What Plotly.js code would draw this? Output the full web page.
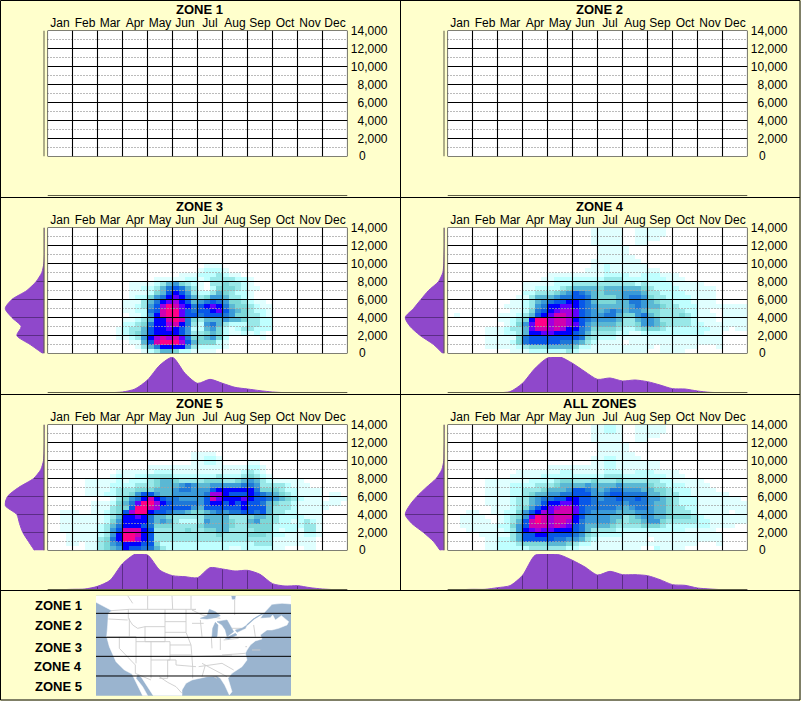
<!DOCTYPE html>
<html><head><meta charset="utf-8">
<script src="https://cdn.plot.ly/plotly-3.0.1.min.js"></script>
<style>html,body{margin:0;padding:0;background:#FFFFCC}#chart{width:801px;height:701px}</style>
</head><body><div id="chart"></div>
<script>
const months=['Jan','Feb','Mar','Apr','May','Jun','Jul','Aug','Sep','Oct','Nov','Dec'];
const altTicks=[2000,4000,6000,8000,10000,12000,14000];
const altTickText=['2,000','4,000','6,000','8,000','10,000','12,000','14,000'];
const levelColors=['#FFFFFF','#E0FFFF','#BFFFFF','#99E8E8','#7CD8D8','#5AB8D4','#3A9AD8','#1E78D8','#0858E8','#0000FF','#6000FF','#A000E0','#D000B0','#FF0088'];
const zoneNames=['ZONE 1','ZONE 2','ZONE 3','ZONE 4','ZONE 5','ALL ZONES'];

/* density level per cell (hex digit), one string per 500 ft from 14,000 down, four cells per month */
const zone3Grid=['','','','','','','','',
'0000 0000 0000 0000 0000 0000 0111',
'0000 0000 0000 0000 0000 0000 1222 1000',
'0000 0000 0000 0000 0000 0111 2223 2110',
'0000 0000 0000 0000 0111 1122 1233 3322 1000',
'0000 0000 0000 0111 1235 6432 1033 4332 1000',
'0000 0000 0000 0112 2357 8753 1024 4432 1100',
'0000 0000 0000 0111 2458 9863 2235 4322 1000',
'0000 0000 0000 0122 4679 a975 3466 5332 1000',
'0000 0000 0000 1113 579a b985 6787 6443 2110',
'0000 0000 0000 1123 68bd ca97 89a9 7544 3211',
'0000 0000 0000 1122 78cd da87 889a 8654 3221',
'0000 0000 0000 0112 69cd da88 7888 7644 3321',
'0000 0000 0000 1123 599c dc74 3555 6554 3322',
'0000 0000 0000 2234 799b c973 2675 3222 3322',
'0000 0000 0001 2335 899a 9862 2564 2123 3222',
'0000 0000 0001 2345 8999 9863 3454 2112 1210',
'0000 0000 0001 1236 9bcb ca74 4564 2000 0010',
'0000 0000 0000 0115 8cdd db85 4442 1',
'0000 0000 0000 0013 5799 9963 2222 1',
'0000 0000 0000 0001 2355 4221 1110'];
const zone4Grid=[
'0000 0000 0000 0000 0000 0001 1111 0011 1110',
'0000 0000 0000 0000 0000 0001 1111 0011 1110',
'0000 0000 0000 0000 0000 0001 1111 0011 1100',
'0000 0000 0000 0000 0000 0001 1111 0011',
'0000 0000 0000 0000 0000 0000 1111 1',
'0000 0000 0000 0000 0000 0000 1111 1',
'0000 0000 0000 0000 0000 0000 1111 11',
'0000 0000 0000 0000 0000 0001 1111 1110',
'0000 0000 0000 0000 0000 0001 1211 1111',
'0000 0000 0000 0000 0000 0011 1211 1111 1100',
'0000 0000 0000 0000 1111 1111 1222 2112 2211 1',
'0000 0000 0000 0001 1222 2222 2333 2222 2221 11',
'0000 0000 0000 1111 1222 3333 3333 3323 2222 1111 1',
'0000 0000 0000 1122 2234 5555 4555 5554 3222 2111 1110',
'0000 0000 0000 2233 3456 8765 4555 6665 3322 2211 1110',
'0000 0000 0001 1355 5677 8875 4445 6776 4332 2221 1110',
'0000 0000 0011 2356 7889 9875 4445 5776 5433 2221 1110',
'0000 0000 0111 2367 99aa 9876 5555 5676 5543 3222 1111 1111',
'0000 0000 0011 2478 9abb a876 5676 5665 4433 3322 1100 1111',
'0100 0000 1112 3589 accb a876 6775 4467 5433 3432 1110 1111',
'0000 0000 1123 49dd bccb 9876 6665 3356 6533 3332 1110 1111',
'0000 0000 0124 6add bccb a865 5554 3346 6543 3332 2111 1111',
'0000 0011 1233 5acc bcb9 9764 4443 2234 4432 2222 2211 1011',
'0000 0011 1223 599a a999 8753 3332 2112 2222 2222 2111',
'0000 0011 1114 7888 8888 8743 2221 1111 1111 1111 1111',
'0000 0011 1124 7888 8877 6532 1111 0111 1111 1111 1111',
'0000 0011 1112 3444 5555 4221 1111 1111 1011 1111 0001',
'0000 0000 0011 1222 2223 2111 1111 1111 0011 1100'];
const zone5Grid=['','','','','','',
'0000 0000 0000 0000 0000 0001 1110',
'0000 0000 0000 0000 0000 0001 1221',
'0000 0000 0000 0000 0000 0001 1221 0000 1100',
'0000 0000 0000 0000 1111 1111 1111 1111 2210',
'0000 0000 0001 1111 1222 1111 1111 1112 3210',
'0000 0000 0012 1122 3333 2222 2223 2223 4321',
'0000 0011 1112 1222 3455 4333 3444 3345 6532 1111 1',
'0000 0011 1122 2233 3455 5676 5566 6667 7633 3321 11',
'0000 0011 1123 3344 4555 6776 6689 9999 9744 4322 1111',
'0000 0011 1223 3468 8655 6666 67bb 9888 9876 5432 1111 0110',
'0000 0000 0013 4679 c987 7666 68ca 999a 9887 6543 2111 0111',
'0000 0001 1124 57ad db98 7777 6899 8989 8875 4332 1111 1110',
'0000 0001 1134 48dd cb88 8886 5888 8889 8885 3332 1111 1',
'0011 1001 1234 8bdd 9887 6654 4567 6778 8785 3322 1111',
'0011 1111 1235 99a9 7554 3333 3555 5333 4554 3222 2111',
'0011 1111 1246 9999 7565 3222 3655 5433 5644 3221 2321',
'0011 1111 2357 9998 7444 3333 4555 5433 4444 2222 2331',
'0011 1111 2368 ccc9 8333 3343 3445 5333 3444 2122 1331',
'0001 1111 2369 ddc9 8333 3333 3334 3333 4443 2211 1221',
'0001 1111 3479 ddb9 8333 3333 3333 3333 3333 1111 1110',
'0001 1011 3467 9998 8422 2222 2222 2222 2333 1111 1110',
'0000 0011 3456 9887 7532 2222 2222 2112 2222 1100 0110'];
const allZonesGrid=[
'0000 0000 0000 0000 0000 0001 1221 0011 1110',
'0000 0000 0000 0000 0000 0001 1221 0011 1110',
'0000 0000 0000 0000 0000 0001 1111 0011 1100',
'0000 0000 0000 0000 0000 0001 1111 0011',
'0000 0000 0000 0000 0000 0000 1111 1',
'0000 0000 0000 0000 0000 0000 1111 1',
'0000 0000 0000 0000 0000 0000 1111 11',
'0000 0000 0000 0000 0000 0001 1221 1110',
'0000 0000 0000 0000 0000 0001 1221 1111 1100',
'0000 0000 0000 0000 1111 1111 1221 1111 1100',
'0000 0000 0001 1111 1122 1111 1222 1122 2111 1',
'0000 0000 0011 1112 2222 2222 2333 2222 2221 11',
'0000 0011 1111 1222 2344 3334 3334 3333 3322 1111 1',
'0000 0011 1122 2233 3455 5565 5556 5555 4332 2211 11',
'0000 0011 1122 3334 5556 8876 5677 6665 5443 2221 1110',
'0000 0011 1122 3455 6677 8886 6788 7777 5543 3221 1111 1',
'0000 0011 1123 3567 7889 9887 6778 7787 6654 3222 1111 1110',
'0000 0011 1123 3568 99aa 9887 7777 6777 6554 3222 1111 1111',
'0000 0001 1123 4689 abcc a877 7776 5677 6554 3322 1111 1111',
'0001 1001 1224 689b accc a876 6665 5566 6554 3332 1111 1011',
'0011 1100 1234 6adc bccc 9866 6655 3456 6554 4443 2111 1111',
'0011 1110 1235 8cdc bccb 9766 6654 3445 6643 3333 2211 1111',
'0011 1111 2246 8ccc bcba 8755 5543 3334 4432 2222 2211 11',
'0001 1111 1236 9aba a999 8753 3332 2222 2222 2211 1110',
'0000 0111 1135 8899 8888 7643 2222 1111 1111 1111 1111',
'0000 0011 2235 8888 8776 6532 1111 1111 0111 1111 1111',
'0000 0011 2223 4444 5554 3221 1111 1111 1111 1111 0001',
'0000 0011 2222 2333 3332 2111 1111 1110 0211 1100'];

/* marginal profile by month: height at every half month, Jan to Dec */
const zone3ByMonth=[0,0,0,0,0,1,3,12,39,84,107,59,29,41,29,17,12,7,3,1,0,0,0,0,0];
const zone4ByMonth=[0,0,0,0,1,4,29,74,105,108,89,64,41,45,36,39,34,24,13,12,6,2,1,1,1];
const zone5ByMonth=[0,1,2,3,11,29,79,107,105,59,43,40,37,67,63,57,59,47,19,12,13,7,3,1,0];
const allZonesByMonth=[0,1,2,2,7,13,44,104,109,105,89,69,45,56,46,46,43,31,16,14,6,3,1,1,1];
/* marginal profile by altitude: width at every 1,000 ft, 0 to 14,000 */
const zone3ByAlt=[5,43,83,70,98,118,98,53,25,8,2,0,0,0,0];
const zone4ByAlt=[5,33,73,103,118,93,71,48,18,5,2,1,0,0,0];
const zone5ByAlt=[30,48,65,75,83,118,111,78,33,11,3,1,0,0,0];
const allZonesByAlt=[13,33,63,98,118,105,83,55,25,8,2,1,0,0,0];

/* sketch map, in the map image's own units (3 units per pixel) */
const mapZoneLines=[55,127,184,243];
const landX=[0,405,408,418,420,585,585,558,528,503,493,523,530,538,556,578,573,548,528,513,493,498,478,463,453,448,453,438,408,396,408,400,386,373,363,333,288,270,258,258,172,152,137,125,120,140,155,140,125,108,85,60,40,32,35,37,48,20,0,0];
const landY=[2,2,14,14,2,2,27,25,28,55,70,68,60,75,62,80,90,100,105,105,120,132,138,150,165,175,195,215,235,250,290,300,270,250,243,245,255,265,285,302,302,272,248,238,250,275,302,302,270,237,225,200,155,125,90,55,47,33,22,2];
const lakeX=[313,333,340,358,373,358,333,313,null,348,350,358,366,363,350,348,null,363,393,413,393,388,378,363,null,388,418,423,398,388,null,418,438,453,448,423,418];
const lakeY=[70,62,43,50,62,68,72,70,null,125,100,82,90,125,128,125,null,80,75,110,125,105,90,80,null,130,115,120,132,130,null,105,100,90,100,112,105];
const riverX=[453,473,493,503];
const riverY=[90,72,60,55];
const stateX=[95,110,null,155,155,null,228,230,null,285,285,null,416,416,null,45,100,300,288,318,373,null,97,97,110,125,147,null,37,95,null,33,120,null,100,100,null,70,70,118,118,165,null,120,120,null,147,207,207,147,147,null,207,207,null,207,270,null,207,270,null,222,285,null,165,222,222,165,165,null,120,165,null,165,165,null,215,215,190,null,215,240,240,300,null,222,285,null,190,215,240,258,null,270,270,285,287,290,290,null,288,323,null,313,318,null,346,348,null,373,373,null,288,408,null,378,448,null,308,378,null,328,318,null,353,363,null,318,393,null,378,413,null,383,428,null,403,448,453,null,408,448,null,453,473,478,null,468,493,null,348,373,403];
const stateY=[2,25,null,2,42,null,2,42,null,2,42,null,15,60,null,47,43,43,45,60,70,null,43,70,90,100,95,null,72,75,null,125,125,null,70,125,null,125,160,210,235,255,null,125,205,null,95,95,140,140,95,null,43,95,null,80,80,null,112,112,null,150,150,null,140,140,195,195,140,null,140,140,null,195,250,null,195,250,250,null,195,195,210,215,null,180,180,null,245,262,275,295,null,43,112,150,180,215,250,null,85,85,null,75,125,null,125,160,null,130,165,null,185,180,null,180,175,null,215,205,null,210,245,null,245,250,null,205,245,null,205,225,null,135,130,150,null,155,155,null,100,100,125,null,90,125,null,165,165,145];

const W=801,H=701,L=47.5,R=347.5,T=30.5,B=156.5;
const data=[],annotations=[],shapes=[],layout={};
let axisNo=0;
const fx=p=>p/W, fy=p=>1-p/H;
const stepScale=levelColors.slice(1).flatMap((c,i,a)=>[[i/a.length,c],[(i+1)/a.length,c]]);
const textFont={family:'"Liberation Sans",Arial,sans-serif',color:'#000'};

function newPlot(x0,x1,y0,y1,xOpts,yOpts){
  axisNo++;
  const xa='x'+axisNo, ya='y'+axisNo;
  const base={showgrid:false,zeroline:false,showline:false,ticks:'',showticklabels:false,fixedrange:true};
  layout['xaxis'+axisNo]=Object.assign({},base,{domain:[fx(x0),fx(x1)],anchor:ya},xOpts);
  layout['yaxis'+axisNo]=Object.assign({},base,{domain:[fy(y1),fy(y0)],anchor:xa},yOpts);
  return {x:xa,y:ya};
}
function line(ax,xs,ys,color,width,dash){
  data.push({type:'scatter',mode:'lines',xaxis:ax.x,yaxis:ax.y,x:xs,y:ys,cliponaxis:false,hoverinfo:'skip',showlegend:false,
    line:{color:color,width:width,dash:dash||'solid',shape:'linear'}});
}
function panel(ox,oy,name,grid,byMonth,byAlt){
  shapes.push({type:'rect',layer:'below',xref:'paper',yref:'paper',x0:fx(ox+L),x1:fx(ox+R),y0:fy(oy+B),y1:fy(oy+T),fillcolor:'#FFFFFF',line:{width:0}});
  const main=newPlot(ox+L,ox+R,oy+T,oy+B,
    {range:[0,12],side:'top',tickmode:'array',tickvals:months.map((m,i)=>i+0.5),ticktext:months,showticklabels:true,
     tickangle:0,tickfont:Object.assign({size:12},textFont)},
    {range:[0,14000],side:'left',anchor:'free',position:fx(ox+387.5),tickmode:'array',tickvals:altTicks,ticktext:altTickText,showticklabels:true,
     tickfont:Object.assign({size:12},textFont)});
  if(grid){
    const cells=grid.map(r=>r.replace(/ /g,'').padEnd(48,'0')).reverse();
    data.push({type:'heatmap',xaxis:main.x,yaxis:main.y,
      x:Array.from({length:48},(_,i)=>(i+0.5)/4),
      y:Array.from({length:28},(_,i)=>(i+0.5)*500),
      z:cells.map(r=>[...r].map(c=>{const v=parseInt(c,16);return v===0?null:v;})),
      zmin:0.5,zmax:13.5,colorscale:stepScale,showscale:false,hoverinfo:'skip',zsmooth:false});
  }
  const minor=[],major=[0,...altTicks];
  for(let v=1000;v<14000;v+=2000)minor.push(v);
  const hx=[],hy=[];minor.forEach(v=>{hx.push(0,12,null);hy.push(v,v,null);});
  line(main,hx,hy,'#FFFFFF',1,'1px,2px');
  line(main,hx,hy,'#777777',1,'1px,2px');
  const gx=[],gy=[];
  major.forEach(v=>{gx.push(0,12,null);gy.push(v,v,null);});
  for(let m=0;m<=12;m++){gx.push(m,m,null);gy.push(0,14000,null);}
  line(main,gx,gy,'#000000',1.1);
  annotations.push({xref:main.x,yref:main.y,x:12,y:0,xanchor:'left',yanchor:'middle',xshift:9.5,yshift:1,text:'0',showarrow:false,
    font:Object.assign({size:12},textFont)});
  annotations.push({xref:'paper',yref:'paper',x:fx(ox+199.5),y:fy(oy+9.5),xanchor:'center',yanchor:'middle',text:'<b>'+name+'</b>',showarrow:false,
    font:Object.assign({size:13},textFont)});

  const bot=newPlot(ox+L,ox+R,oy+160,oy+196,{range:[0,12]},{range:[0,108]});
  if(byMonth){
    data.push({type:'scatter',mode:'lines',xaxis:bot.x,yaxis:bot.y,x:byMonth.map((v,i)=>i/2),y:byMonth,fill:'tozeroy',
      fillcolor:'#8F48CB',line:{color:'#8F48CB',width:1,shape:'spline',smoothing:0.7},hoverinfo:'skip',showlegend:false,cliponaxis:false});
    const vx=[],vy=[];
    byMonth.forEach((v,i)=>{if(i%2===0&&i>0&&i<24&&v>3){vx.push(i/2,i/2,null);vy.push(0,v-1,null);}});
    line(bot,vx,vy,'#5B2D86',1);
  }
  line(bot,[0,12],[0,0],'#5E5E46',2);

  const lef=newPlot(ox+4.5,ox+44.5,oy+T,oy+B,{range:[120,0]},{range:[0,14000]});
  if(byAlt){
    data.push({type:'scatter',mode:'lines',xaxis:lef.x,yaxis:lef.y,x:byAlt,y:byAlt.map((v,i)=>i*1000),fill:'tozerox',
      fillcolor:'#8F48CB',line:{color:'#8F48CB',width:1,shape:'spline',smoothing:0.7},hoverinfo:'skip',showlegend:false,cliponaxis:false});
    const wx=[],wy=[];
    byAlt.forEach((v,i)=>{if(i%2===0&&i>0&&v>3){wx.push(0,v-1,null);wy.push(i*1000,i*1000,null);}});
    line(lef,wx,wy,'#5B2D86',1);
  }
  line(lef,[0,0],[0,14000],'#5E5E46',2);
}
panel(0,0,zoneNames[0]);
panel(400,0,zoneNames[1]);
panel(0,197,zoneNames[2],zone3Grid,zone3ByMonth,zone3ByAlt);
panel(400,197,zoneNames[3],zone4Grid,zone4ByMonth,zone4ByAlt);
panel(0,394,zoneNames[4],zone5Grid,zone5ByMonth,zone5ByAlt);
panel(400,394,zoneNames[5],allZonesGrid,allZonesByMonth,allZonesByAlt);

/* map */
const OCEAN='#9AB4CF';
const map=newPlot(96,291,595.67,695.67,{range:[0,585]},{range:[302,2]});
shapes.push({type:'rect',xref:'paper',yref:'paper',x0:fx(96),x1:fx(291),y0:fy(695.67),y1:fy(595.67),fillcolor:OCEAN,line:{width:0},layer:'below'});
data.push({type:'scatter',mode:'lines',xaxis:map.x,yaxis:map.y,x:landX,y:landY,fill:'toself',fillcolor:'#FFFFFF',line:{color:'#FFFFFF',width:0.5},hoverinfo:'skip',showlegend:false});
line(map,stateX,stateY,'#CDCDCD',0.9);
data.push({type:'scatter',mode:'lines',xaxis:map.x,yaxis:map.y,x:lakeX,y:lakeY,fill:'toself',fillcolor:OCEAN,line:{color:OCEAN,width:0.5},hoverinfo:'skip',showlegend:false});
line(map,riverX,riverY,OCEAN,1.2);
const zx=[],zy=[];
mapZoneLines.forEach(v=>{zx.push(0,585,null);zy.push(v,v,null);});
line(map,zx,zy,'#000000',1);
const legendY=[605,625,647,666,686];
['ZONE 1','ZONE 2','ZONE 3','ZONE 4','ZONE 5'].forEach((t,i)=>annotations.push({xref:'paper',yref:'paper',x:fx(83.5),y:fy(legendY[i]),xanchor:'right',yanchor:'middle',
  text:'<b>'+t+'</b>',showarrow:false,font:Object.assign({size:13},textFont)}));

const border=(x0,y0,x1,y1)=>shapes.push({type:'line',xref:'paper',yref:'paper',x0:fx(x0),x1:fx(x1),y0:fy(y0),y1:fy(y1),line:{color:'#000',width:1}});
border(0.5,0.5,800,0.5);border(0.5,197.5,800,197.5);border(0.5,394.5,800,394.5);border(0.5,590.5,800,590.5);border(0.5,700,800,700);
border(0.5,0.5,0.5,700);border(800,0.5,800,700);border(400.5,0.5,400.5,590.5);

Object.assign(layout,{width:W,height:H,margin:{l:0,r:0,t:0,b:0},paper_bgcolor:'#FFFFCC',plot_bgcolor:'rgba(0,0,0,0)',showlegend:false,annotations,shapes,hovermode:false,font:textFont});
Plotly.newPlot('chart',data,layout,{displayModeBar:false,staticPlot:true});
</script></body></html>
